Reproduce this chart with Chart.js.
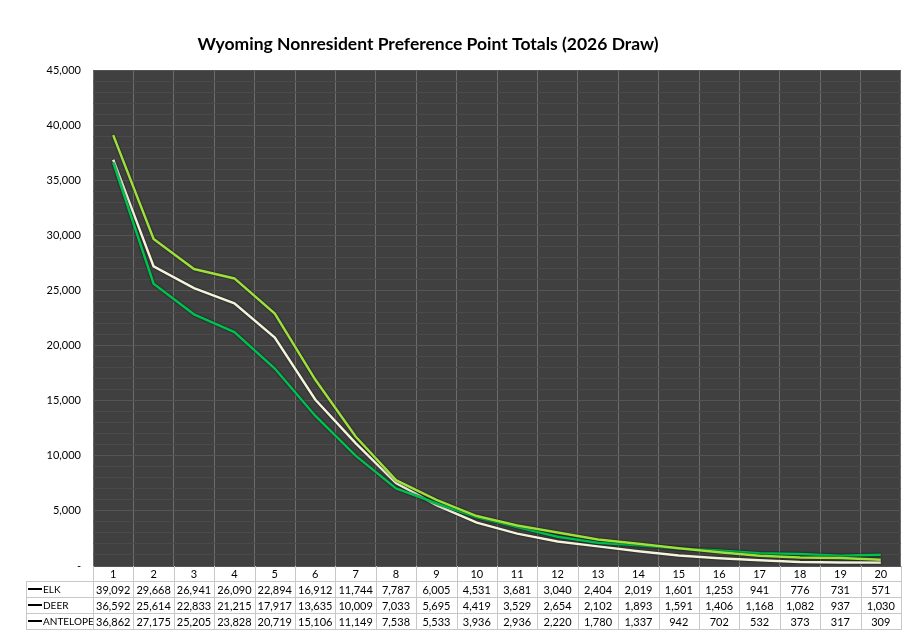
<!DOCTYPE html>
<html>
<head>
<meta charset="utf-8">
<script src="https://cdn.jsdelivr.net/npm/chart.js@4.4.1/dist/chart.umd.min.js"></script>
<style>
  html, body { margin: 0; padding: 0; background: #fff; }
  #wrap { width: 909px; height: 636px; }
</style>
</head>
<body>
<div id="wrap"><canvas id="prefChart" width="909" height="636"></canvas></div>
<script>
const points = ['1', '2', '3', '4', '5', '6', '7', '8', '9', '10',
                '11', '12', '13', '14', '15', '16', '17', '18', '19', '20'];
const elk = [39092, 29668, 26941, 26090, 22894, 16912, 11744, 7787, 6005, 4531,
             3681, 3040, 2404, 2019, 1601, 1253, 941, 776, 731, 571];
const deer = [36592, 25614, 22833, 21215, 17917, 13635, 10009, 7033, 5695, 4419,
              3529, 2654, 2102, 1893, 1591, 1406, 1168, 1082, 937, 1030];
const antelope = [36862, 27175, 25205, 23828, 20719, 15106, 11149, 7538, 5533, 3936,
                  2936, 2220, 1780, 1337, 942, 702, 532, 373, 317, 309];
const chartTitle = 'Wyoming Nonresident Preference Point Totals (2026 Draw)';

const FONT = 'Lato, "Open Sans", sans-serif';

// dark plot background + title
const backdrop = {
    id: 'backdrop',
    beforeDraw(chart) {
        const { ctx, chartArea: a } = chart;
        ctx.save();
        ctx.fillStyle = '#404040';
        ctx.fillRect(a.left, a.top, a.right - a.left, a.bottom - a.top);
        ctx.fillStyle = '#000';
        ctx.font = 'bold 17.5px ' + FONT;
        ctx.textAlign = 'center';
        ctx.textBaseline = 'middle';
        ctx.fillText(chartTitle, 428, 44);
        ctx.restore();
    }
};

// thin dark edge round the lines
const lineEdge = {
    id: 'lineEdge',
    beforeDatasetDraw(chart) {
        chart.ctx.save();
        chart.ctx.shadowColor = 'rgba(0,0,0,0.85)';
        chart.ctx.shadowBlur = 2;
    },
    afterDatasetDraw(chart) {
        chart.ctx.restore();
    }
};

// data table under the x axis
const dataTable = {
    id: 'dataTable',
    afterDraw(chart) {
        const { ctx, chartArea: a } = chart;
        const x = chart.scales.x;
        const step = (a.right - a.left) / points.length;
        const top = a.bottom, rowH = 16;
        const keyLeft = 26;
        const rows = chart.data.datasets;
        const bottom = top + rowH * (rows.length + 1);
        ctx.save();
        ctx.strokeStyle = '#c8c8c8';
        ctx.lineWidth = 1;
        ctx.beginPath();
        for (let i = 0; i <= points.length; i++) {
            const px = Math.round(a.left + i * step) + 0.5;
            ctx.moveTo(px, top);
            ctx.lineTo(px, bottom);
        }
        ctx.moveTo(keyLeft + 0.5, top + rowH);
        ctx.lineTo(keyLeft + 0.5, bottom);
        for (let r = 1; r <= rows.length + 1; r++) {
            const py = Math.round(top + r * rowH) - 0.5;
            ctx.moveTo(keyLeft, py);
            ctx.lineTo(a.right, py);
        }
        ctx.stroke();

        ctx.fillStyle = '#000';
        ctx.font = '11px ' + FONT;
        ctx.textAlign = 'center';
        ctx.textBaseline = 'middle';
        points.forEach((p, i) => {
            ctx.fillText(p, x.getPixelForValue(i), top + rowH / 2);
        });
        rows.forEach((ds, r) => {
            const cy = top + rowH * (r + 1) + rowH / 2;
            ctx.font = '11px ' + FONT;
            ctx.textAlign = 'center';
            ds.data.forEach((v, i) => {
                ctx.fillText(v.toLocaleString('en-US'), x.getPixelForValue(i), cy);
            });
            ctx.strokeStyle = '#000';
            ctx.lineWidth = 2;
            ctx.beginPath();
            ctx.moveTo(keyLeft + 2, cy - 1);
            ctx.lineTo(keyLeft + 16, cy - 1);
            ctx.stroke();
            ctx.font = '10px ' + FONT;
            ctx.textAlign = 'left';
            ctx.fillText(ds.label, keyLeft + 17, cy);
        });
        ctx.restore();
    }
};

new Chart(document.getElementById('prefChart'), {
    type: 'line',
    data: {
        labels: points,
        datasets: [{
            label: 'ELK',
            data: elk,
            borderColor: '#9ddf3c',
            borderWidth: 2.5,
            pointRadius: 0,
            fill: false
        }, {
            label: 'DEER',
            data: deer,
            borderColor: '#00c050',
            borderWidth: 2.5,
            pointRadius: 0,
            fill: false
        }, {
            label: 'ANTELOPE',
            data: antelope,
            borderColor: '#f4f4dc',
            borderWidth: 2.5,
            pointRadius: 0,
            fill: false
        }]
    },
    options: {
        responsive: false,
        animation: false,
        layout: { padding: { top: 70, right: 8, bottom: 70, left: 0 } },
        plugins: {
            legend: { display: false },
            tooltip: { enabled: false }
        },
        scales: {
            x: {
                offset: true,
                afterFit: s => { s.height = 0; },
                ticks: { display: false },
                border: { display: false },
                grid: { color: '#6c6c6c', drawTicks: false, offset: true }
            },
            y: {
                min: 0,
                max: 45000,
                afterFit: s => { s.width = 93; },
                border: { display: false },
                grid: {
                    drawTicks: false,
                    color: c => (c.tick && c.tick.value % 5000 === 0) ? '#555555' : '#4a4a4a'
                },
                ticks: {
                    stepSize: 1000,
                    autoSkip: false,
                    maxTicksLimit: 100,
                    padding: 12,
                    color: '#000',
                    font: { family: FONT, size: 11 },
                    callback: v => {
                        if (v === 0) return '-';
                        return v % 5000 === 0 ? v.toLocaleString('en-US') : '';
                    }
                }
            }
        }
    },
    plugins: [backdrop, lineEdge, dataTable]
});
</script>
</body>
</html>
